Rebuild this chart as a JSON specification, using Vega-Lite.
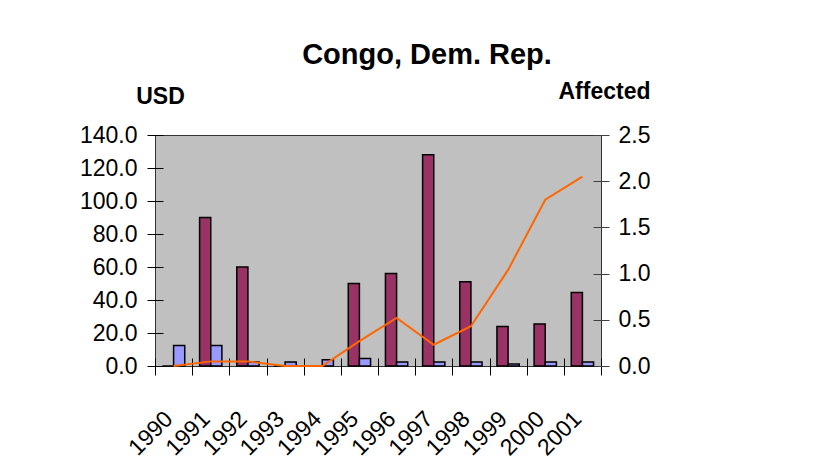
{
  "$schema": "https://vega.github.io/schema/vega-lite/v6.json",
  "autosize": {"type": "none"},
  "width": 446,
  "height": 231,
  "padding": {"left": 155, "top": 135, "right": 233, "bottom": 98},
  "background": "#FFFFFF",
  "config": {
    "view": {"fill": "#C0C0C0", "stroke": "#333333", "strokeWidth": 1},
    "font": "Liberation Sans"
  },
  "title": {
    "text": "Congo, Dem. Rep.",
    "fontSize": 29,
    "fontWeight": "bold",
    "font": "Liberation Sans",
    "color": "#000000",
    "anchor": "middle",
    "frame": "group",
    "dx": 49,
    "offset": 10
  },
  "datasets": {
    "bars": [
      {"year": "1990", "series": "Series 1", "usd": 0},
      {"year": "1990", "series": "Series 2", "usd": 12.5},
      {"year": "1991", "series": "Series 1", "usd": 90},
      {"year": "1991", "series": "Series 2", "usd": 12.5},
      {"year": "1992", "series": "Series 1", "usd": 60},
      {"year": "1992", "series": "Series 2", "usd": 2.5},
      {"year": "1993", "series": "Series 1", "usd": 0},
      {"year": "1993", "series": "Series 2", "usd": 2.5},
      {"year": "1994", "series": "Series 1", "usd": 0},
      {"year": "1994", "series": "Series 2", "usd": 3.8},
      {"year": "1995", "series": "Series 1", "usd": 50},
      {"year": "1995", "series": "Series 2", "usd": 4.6},
      {"year": "1996", "series": "Series 1", "usd": 56},
      {"year": "1996", "series": "Series 2", "usd": 2.5},
      {"year": "1997", "series": "Series 1", "usd": 128},
      {"year": "1997", "series": "Series 2", "usd": 2.5},
      {"year": "1998", "series": "Series 1", "usd": 51},
      {"year": "1998", "series": "Series 2", "usd": 2.5},
      {"year": "1999", "series": "Series 1", "usd": 24},
      {"year": "1999", "series": "Series 2", "usd": 1.2},
      {"year": "2000", "series": "Series 1", "usd": 25.5},
      {"year": "2000", "series": "Series 2", "usd": 2.5},
      {"year": "2001", "series": "Series 1", "usd": 44.5},
      {"year": "2001", "series": "Series 2", "usd": 2.5}
    ],
    "affected": [
      {"year": "1990", "affected": 0},
      {"year": "1991", "affected": 0.05},
      {"year": "1992", "affected": 0.05},
      {"year": "1993", "affected": 0},
      {"year": "1994", "affected": 0},
      {"year": "1995", "affected": 0.27},
      {"year": "1996", "affected": 0.52},
      {"year": "1997", "affected": 0.23},
      {"year": "1998", "affected": 0.43},
      {"year": "1999", "affected": 1.04},
      {"year": "2000", "affected": 1.8},
      {"year": "2001", "affected": 2.05}
    ]
  },
  "layer": [
    {
      "data": {"name": "bars"},
      "mark": {"type": "bar", "stroke": "#000000", "strokeWidth": 1.5},
      "encoding": {
        "x": {
          "field": "year",
          "type": "nominal",
          "scale": {"paddingInner": 0, "paddingOuter": 0},
          "axis": {
            "title": null,
            "labelAngle": -45,
            "labelAlign": "right",
            "labelBaseline": "middle",
            "labelFontSize": 23,
            "labelColor": "#000000",
            "labelPadding": 40,
            "labelOffset": -5,
            "tickBand": "extent",
            "tickSize": 17,
            "tickColor": "#000000",
            "offset": -8,
            "domain": false,
            "grid": false
          }
        },
        "xOffset": {
          "field": "series",
          "type": "nominal",
          "sort": ["Series 1", "Series 2"],
          "scale": {"paddingOuter": 0.667, "paddingInner": 0}
        },
        "y": {
          "field": "usd",
          "type": "quantitative",
          "scale": {"domain": [0, 140]},
          "axis": {
            "title": "USD",
            "titleAngle": 0,
            "titleX": -3,
            "titleY": -32,
            "titleAlign": "center",
            "titleBaseline": "alphabetic",
            "titleFontSize": 23,
            "titleFontWeight": "bold",
            "titleColor": "#000000",
            "values": [0, 20, 40, 60, 80, 100, 120, 140],
            "format": ".1f",
            "labelFontSize": 23,
            "labelColor": "#000000",
            "labelPadding": 10,
            "labelFlush": false,
            "labelOverlap": false,
            "tickSize": 16,
            "tickColor": "#000000",
            "offset": -8,
            "domain": false,
            "grid": false
          }
        },
        "color": {
          "field": "series",
          "type": "nominal",
          "scale": {"domain": ["Series 1", "Series 2"], "range": ["#993366", "#9999FF"]},
          "legend": null
        }
      }
    },
    {
      "data": {"name": "affected"},
      "mark": {"type": "line", "color": "#FF6600", "strokeWidth": 2},
      "encoding": {
        "x": {"field": "year", "type": "nominal"},
        "y": {
          "field": "affected",
          "type": "quantitative",
          "scale": {"domain": [0, 2.5]},
          "axis": {
            "orient": "right",
            "title": "Affected",
            "titleAngle": 0,
            "titleX": 11,
            "titleY": -37,
            "titleAlign": "center",
            "titleBaseline": "alphabetic",
            "titleFontSize": 23,
            "titleFontWeight": "bold",
            "titleColor": "#000000",
            "values": [0, 0.5, 1, 1.5, 2, 2.5],
            "format": ".1f",
            "labelFontSize": 23,
            "labelColor": "#000000",
            "labelPadding": 9,
            "labelFlush": false,
            "labelOverlap": false,
            "tickSize": 16,
            "tickColor": "#404040",
            "offset": -8,
            "domain": false,
            "grid": false
          }
        }
      }
    }
  ],
  "resolve": {"scale": {"y": "independent"}}
}
